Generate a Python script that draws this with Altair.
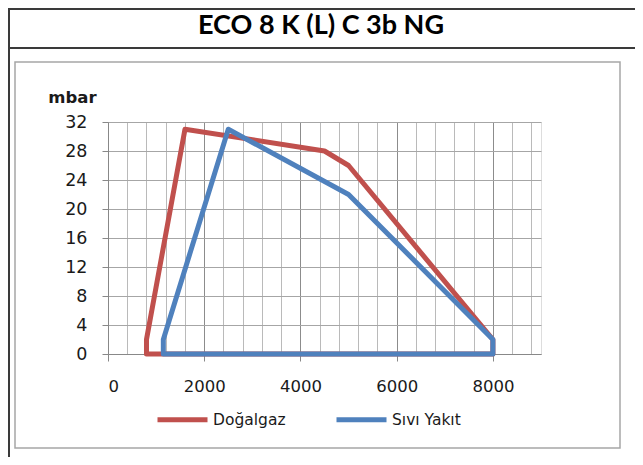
import altair as alt
import pandas as pd

# Data
gas_x = [800, 800, 1600, 4500, 5000, 8000, 8000, 800]
gas_y = [0, 2, 31, 28, 26, 2, 0, 0]
oil_x = [1150, 1150, 2500, 5000, 8000, 8000, 1150]
oil_y = [0, 2, 31, 22, 2, 0, 0]
series = ["Doğalgaz", "Sıvı Yakıt"]
colors = ["#C0504D", "#4F81BD"]
title_text = "ECO 8 K (L) C 3b NG"
y_label = "mbar"
x_ticks = list(range(0, 9000, 400))
y_ticks = list(range(0, 33, 4))

rows = []
for i, (x, y) in enumerate(zip(gas_x, gas_y)):
    rows.append({"s": series[0], "x": x, "y": y, "i": i})
for i, (x, y) in enumerate(zip(oil_x, oil_y)):
    rows.append({"s": series[1], "x": x, "y": y, "i": i})
df = pd.DataFrame(rows)

TFONT = "Lato"
FONT = "DejaVu Sans"
TXT = "#1a1a1a"

lines = alt.Chart(df).mark_line(strokeWidth=5, strokeJoin="round", strokeCap="round").encode(
    x=alt.X("x:Q", scale=alt.Scale(domain=[0, 9000], nice=False, zero=True),
            axis=alt.Axis(values=x_ticks, title=None, format="d",
                          labelExpr="datum.value % 2000 === 0 ? datum.label : ''",
                          labelFont=FONT, labelFontSize=16.5, labelColor=TXT,
                          tickSize=7,
                          tickOpacity={"condition": {"test": "datum.value % 2000 === 0", "value": 1}, "value": 0},
                          gridColor={"condition": {"test": "datum.value % 2000 === 0", "value": "#8c8c8c"}, "value": "#bababa"},
                          labelPadding=17)),
    y=alt.Y("y:Q", scale=alt.Scale(domain=[0, 32], nice=False),
            axis=alt.Axis(values=y_ticks, title=y_label, titleAngle=0, titleX=-36, titleY=-25,
                          titleAlign="center", titleBaseline="middle", titleFontWeight="bold",
                          titleFontSize=16.5, titleFont=FONT, titleColor=TXT,
                          labelFont=FONT, labelFontSize=17.5, labelColor=TXT,
                          tickSize=6, labelPadding=15, gridColor="#a6a6a6")),
    color=alt.Color("s:N", scale=alt.Scale(domain=series, range=colors),
                    legend=alt.Legend(title=None, orient="none", legendX=47, legendY=270,
                                      direction="horizontal", symbolType="stroke",
                                      symbolSize=2500, symbolStrokeWidth=5, labelOffset=3,
                                      columnPadding=40, padding=0, labelFontSize=15.5,
                                      labelFont=FONT, labelColor=TXT)),
    order="i:Q",
)

dummy = alt.Chart(pd.DataFrame({"a": [0]}))

title = dummy.mark_text(font=TFONT, fontSize=27, fontWeight="bold", color="#000000",
                        align="center", baseline="middle").encode(
    x=alt.value(213), y=alt.value(-96), text=alt.value(title_text))

frame_left = dummy.mark_rule(color="#3a3a3a", strokeWidth=2).encode(
    x=alt.value(-99), y=alt.value(-114), y2=alt.value(335))
frame_top = dummy.mark_rule(color="#3a3a3a", strokeWidth=2).encode(
    y=alt.value(-113), x=alt.value(-100), x2=alt.value(527))
frame_title = dummy.mark_rule(color="#3a3a3a", strokeWidth=2).encode(
    y=alt.value(-74), x=alt.value(-100), x2=alt.value(527))
inner_box = dummy.mark_rect(fill=None, stroke="#a6a6a6", strokeWidth=1.5).encode(
    x=alt.value(-93), x2=alt.value(512), y=alt.value(-60), y2=alt.value(326))

chart = alt.layer(inner_box, frame_left, frame_top, frame_title, title, lines).properties(
    width=433, height=232,
    padding={"left": 100, "top": 114, "right": 94, "bottom": 103},
    autosize=alt.AutoSizeParams(type="none"),
).configure_view(stroke=None).configure_axis(
    domainColor="#8c8c8c", tickColor="#8c8c8c", gridWidth=1.2,
).configure(background="white")

chart.save("out.html", embed_options={"renderer": "svg", "actions": False})
